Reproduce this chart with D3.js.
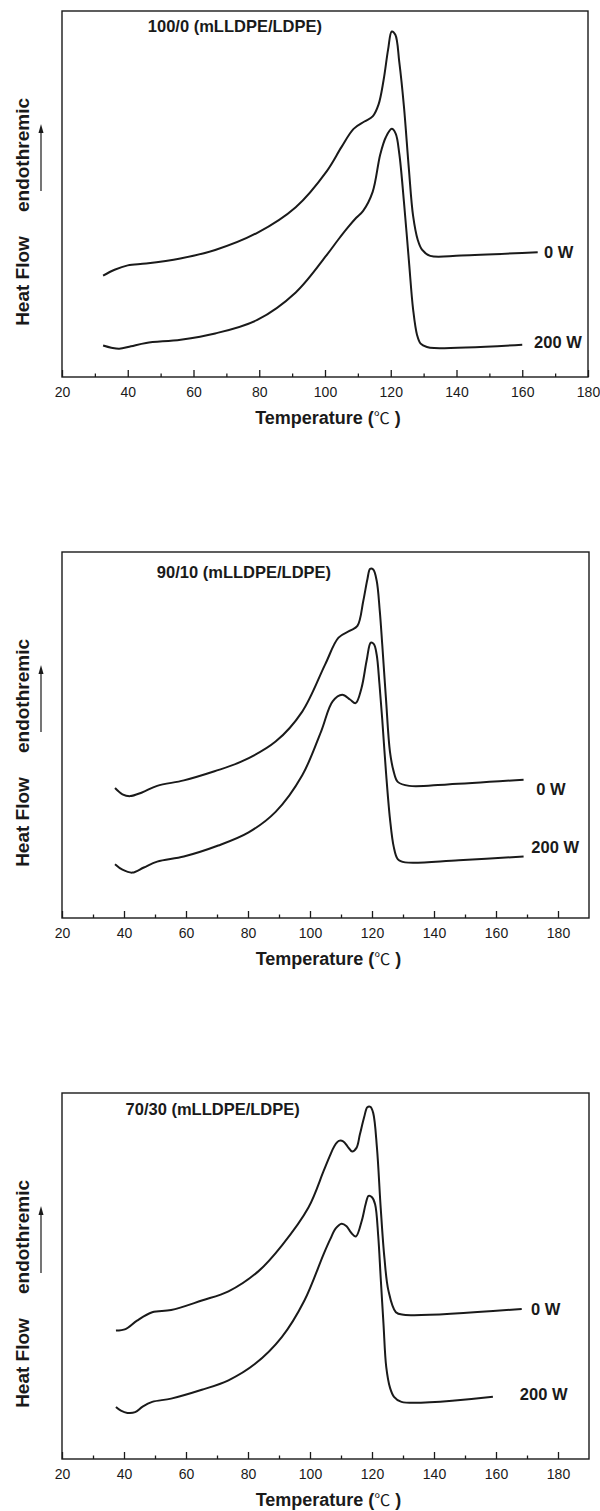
<!doctype html>
<html>
<head>
  <meta charset="utf-8">
  <script src="https://d3js.org/d3.v7.min.js"></script>
  <style>
    body {margin: 0; background: #fff;}
    text {font-family: "Liberation Sans", Arial, sans-serif; fill: #1a1a1a;}
  </style>
</head>
<body>
  <svg id="chart" width="600" height="1511"></svg>
<script>
// temperature (°C) and heat flow (arbitrary units, 0-100 of the frame height)
const t100_0W = [32.5, 36, 40, 45.6, 56, 66.6, 79.4, 91.1, 100.5, 105, 108.7, 112, 114.5, 116.3, 117.8, 119.2, 120.3, 121.4, 122.6, 124, 125.5, 126.8, 128.2, 129.5, 132, 141.4, 164.7];
const hf100_0W = [27.7, 29.3, 30.5, 31.0, 32.4, 34.7, 39.4, 46.4, 56.2, 62.8, 67.8, 69.8, 71.2, 74.5, 81, 89.5, 94.4, 93.5, 86, 74, 57, 44, 37.5, 34.8, 33.1, 33.2, 34.1];
const t100_200W = [32.5, 35, 37.4, 41, 45.6, 56.1, 66.6, 79.4, 91.1, 100.5, 104, 106.9, 109.5, 111.6, 114.5, 116.8, 118.5, 120.3, 121.5, 122.6, 124, 125.5, 126.8, 128, 129.1, 131, 133.2, 160];
const hf100_200W = [8.6, 8.0, 7.7, 8.4, 9.3, 10.2, 11.9, 15.6, 23.1, 33.3, 37.5, 40.8, 43.5, 45.4, 50.6, 60.8, 65.5, 67.8, 66.5, 61, 48, 32, 18.5, 11.5, 9.1, 8.2, 7.9, 8.8];

const t90_0W = [37.1, 39.5, 42, 45.8, 50.7, 59.3, 69.2, 77.8, 88.9, 97.5, 104.9, 109.2, 112.9, 115.3, 117.2, 118.5, 119.4, 120.4, 121.5, 122.5, 123.3, 124.5, 125.8, 127, 128.3, 132, 144.3, 168.9];
const hf90_0W = [35.5, 33.8, 33.3, 34.3, 36.1, 37.6, 40.1, 42.7, 48.2, 56.4, 69.3, 76.6, 78.5, 79.8, 86.7, 92.5, 95.4, 95.2, 92.2, 84, 74.8, 60, 45.4, 40, 37.2, 36.1, 36.5, 37.8];
const t90_200W = [37.1, 39.5, 42.7, 46.4, 50.7, 59.3, 70.4, 80.2, 88.9, 97.5, 103.6, 107.3, 110.4, 112.9, 114.7, 116.6, 118.3, 119.6, 120.6, 121.5, 122.4, 123.3, 124.5, 125.8, 127, 128.3, 130.7, 148, 168.9];
const hf90_200W = [14.7, 13.2, 12.4, 13.8, 15.4, 16.8, 19.8, 23.4, 29.0, 39.0, 51.0, 59.2, 61.0, 59.7, 58.7, 62.8, 70.5, 75.2, 74.8, 72.0, 64, 54.3, 40, 27.1, 19.5, 16.1, 15.2, 15.8, 16.8];

const t70_0W = [37.4, 40.5, 44.2, 49.1, 55.2, 65.1, 73.7, 83.5, 90.9, 99.5, 104.4, 106.3, 107.8, 109.3, 110.7, 112.2, 113.6, 115, 116.1, 117.5, 118.5, 119.5, 120.4, 121.6, 122.8, 124, 125.3, 127.7, 130.2, 168.3];
const hf70_0W = [35.1, 35.5, 37.8, 40.1, 40.7, 43.3, 45.8, 51.4, 58.3, 68.7, 78.7, 82.6, 85.4, 86.9, 86.8, 85.3, 84.0, 85.0, 88.7, 93.5, 96.1, 96.2, 94.5, 85, 68.7, 55, 46.0, 40.1, 39.4, 41.0];
const t70_200W = [37.4, 39, 41.1, 43.6, 46, 49.1, 55.2, 65.1, 73.7, 82.3, 90.9, 98.2, 104.4, 106.5, 108.3, 110.2, 111.8, 113.3, 114.8, 116.7, 118, 118.9, 120, 121, 122, 122.8, 123.7, 124.6, 125.8, 127.1, 129.5, 159];
const hf70_200W = [14.2, 13.2, 12.6, 12.8, 14.3, 15.6, 16.5, 18.9, 21.5, 26.0, 33.3, 43.3, 56.0, 60.0, 63.0, 64.3, 63.6, 61.8, 60.8, 65.1, 69.8, 71.9, 71.5, 69.6, 61, 49.6, 37, 25.1, 19.5, 17.0, 15.6, 17.0];

const majorTicks = [20, 40, 60, 80, 100, 120, 140, 160, 180];
const minorTicks = [30, 50, 70, 90, 110, 130, 150, 170];
const seriesNames = ["0 W", "200 W"];

const panels = [
  {top: 11, xMax: 180, right: 588, title: "100/0 (mLLDPE/LDPE)", titleAt: [46.1, 95.9],
   t: [t100_0W, t100_200W], hf: [hf100_0W, hf100_200W], labelAt: [[166.6, 34.2], [163.6, 9.6]]},
  {top: 552, xMax: 190, right: 589, title: "90/10 (mLLDPE/LDPE)", titleAt: [50.6, 94.6],
   t: [t90_0W, t90_200W], hf: [hf90_0W, hf90_200W], labelAt: [[173, 35.2], [171.4, 19.4]]},
  {top: 1093, xMax: 190, right: 589, title: "70/30 (mLLDPE/LDPE)", titleAt: [40.5, 95.5],
   t: [t70_0W, t70_200W], hf: [hf70_0W, hf70_200W], labelAt: [[171.3, 41], [167.7, 17.8]]}
];

const H = 366, left = 62, ink = "#1a1a1a";
const svg = d3.select("#chart");

panels.forEach(p => {
  const bottom = p.top + H;
  const x = d3.scaleLinear().domain([20, p.xMax]).range([left, p.right]);
  const y = d3.scaleLinear().domain([0, 100]).range([bottom, p.top]);
  const g = svg.append("g");

  g.append("rect")
    .attr("x", left).attr("y", p.top)
    .attr("width", p.right - left).attr("height", H)
    .attr("fill", "none").attr("stroke", ink).attr("stroke-width", 1.4);

  const major = g.append("g")
    .attr("transform", `translate(0,${bottom})`)
    .call(d3.axisBottom(x).tickValues(majorTicks).tickSize(-7).tickSizeOuter(0).tickPadding(10).tickFormat(d3.format("d")));
  major.select(".domain").remove();
  major.attr("font-size", 14).attr("font-family", null);
  major.selectAll("line").attr("stroke", ink).attr("stroke-width", 1.3);
  major.selectAll("text").attr("fill", "#262626");

  const minor = g.append("g")
    .attr("transform", `translate(0,${bottom})`)
    .call(d3.axisBottom(x).tickValues(minorTicks).tickSize(-3.5).tickSizeOuter(0).tickFormat(""));
  minor.select(".domain").remove();
  minor.selectAll("line").attr("stroke", ink).attr("stroke-width", 1.3);

  // x axis title
  const xt = g.append("text")
    .attr("x", (left + p.right) / 2 + 3).attr("y", bottom + 47)
    .attr("text-anchor", "middle").attr("font-size", 18).attr("font-weight", "bold");
  xt.append("tspan").text("Temperature (");
  xt.append("tspan").attr("font-family", "'Noto Sans CJK SC'").attr("font-weight", "normal").attr("font-size", 16).text("℃");
  xt.append("tspan").text(" )");

  // y axis title with arrow
  g.append("text")
    .attr("transform", `translate(22,${p.top + 270}) rotate(-90)`)
    .attr("text-anchor", "middle").attr("dominant-baseline", "central")
    .attr("font-size", 19).attr("font-weight", "bold")
    .text("Heat Flow");
  g.append("text")
    .attr("transform", `translate(22,${p.top + 144}) rotate(-90)`)
    .attr("text-anchor", "middle").attr("dominant-baseline", "central")
    .attr("font-size", 19).attr("font-weight", "bold")
    .text("endothremic");
  g.append("line")
    .attr("x1", 41).attr("x2", 41).attr("y1", p.top + 180).attr("y2", p.top + 120)
    .attr("stroke", ink).attr("stroke-width", 1.2);
  g.append("path")
    .attr("d", `M41,${p.top + 113} L38.5,${p.top + 122} L43.5,${p.top + 122} Z`)
    .attr("fill", ink);

  // title
  g.append("text")
    .attr("x", x(p.titleAt[0])).attr("y", y(p.titleAt[1]))
    .attr("dominant-baseline", "central")
    .attr("font-size", 16.5).attr("font-weight", "bold")
    .text(p.title);

  const line = d3.line()
    .x(d => x(d[0])).y(d => y(d[1]))
    .curve(d3.curveCatmullRom.alpha(0.5));

  p.t.forEach((ts, i) => {
    g.append("path")
      .datum(d3.zip(ts, p.hf[i]))
      .attr("d", line)
      .attr("fill", "none").attr("stroke", ink).attr("stroke-width", 2)
      .attr("stroke-linejoin", "round");
    g.append("text")
      .attr("x", x(p.labelAt[i][0])).attr("y", y(p.labelAt[i][1]))
      .attr("dominant-baseline", "central")
      .attr("font-size", 16.5).attr("font-weight", "bold")
      .text(seriesNames[i]);
  });
});
</script>
</body>
</html>
